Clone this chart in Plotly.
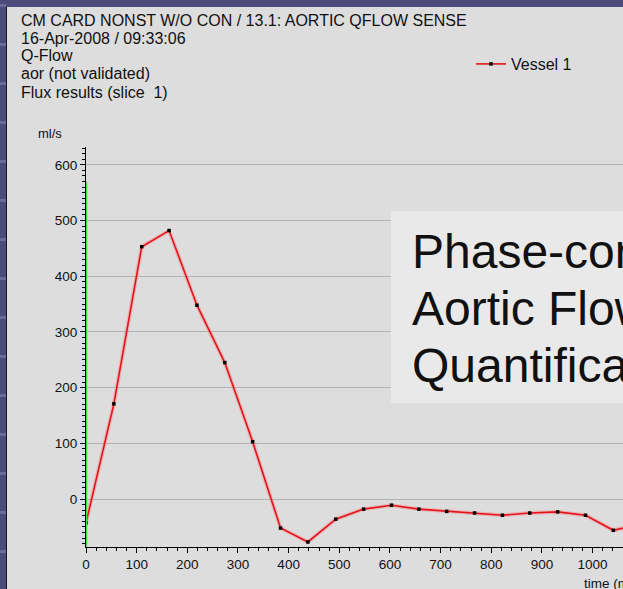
import plotly.graph_objects as go

# ---------------- data ----------------
time_ms = [0, 55, 110, 164, 219, 274, 329, 384, 438, 493, 548, 603, 657, 712,
           767, 822, 876, 931, 986, 1041, 1096]
flow_mls = [-43, 171, 453, 482, 348, 245, 103, -52, -77, -36, -18, -11, -18, -22,
            -25, -29, -25, -23, -29, -56, -45]
series_name = "Vessel 1"
header_lines = [
    "CM CARD NONST W/O CON / 13.1: AORTIC QFLOW SENSE",
    "16-Apr-2008 / 09:33:06",
    "Q-Flow",
    "aor (not validated)",
    "Flux results (slice  1)",
]
overlay_lines = ["Phase-contrast", "Aortic Flow", "Quantification"]
y_unit = "ml/s"
x_title = "time (ms)"
x_ticks = [0, 100, 200, 300, 400, 500, 600, 700, 800, 900, 1000]
y_ticks = [0, 100, 200, 300, 400, 500, 600]
x_range = [0, 1060]
y_range = [-86, 632]
cursor_top = 570

# ---------------- layout geometry ----------------
W, H = 623, 589
L, R, T, B = 86, 0, 147, 42
PW = W - L - R
PH = H - T - B


def px(x):
    return (x - L) / PW


def py(y):
    return (H - B - y) / PH


FONT = "Liberation Sans, Arial, Helvetica, sans-serif"
SLIDE = "#4b4b7b"
PANEL = "#dddddd"

fig = go.Figure()
# soft halo of the curve
fig.add_trace(go.Scatter(x=time_ms, y=flow_mls, mode="lines",
                         line=dict(color="rgba(255,110,110,0.35)", width=4),
                         hoverinfo="skip", showlegend=False))
fig.add_trace(go.Scatter(x=time_ms, y=flow_mls, mode="lines+markers", name=series_name,
                         line=dict(color="#e3141c", width=1.6),
                         marker=dict(symbol="square", size=3.5, color="black")))

shapes = []
# slide border and panel
shapes.append(dict(type="rect", xref="paper", yref="paper", x0=px(7), x1=px(700),
                   y0=py(700), y1=py(7), fillcolor=PANEL, line=dict(width=0), layer="below"))
for yy in range(4, 589, 39):
    shapes.append(dict(type="rect", xref="paper", yref="paper", x0=px(0), x1=px(6),
                       y0=py(yy + 3), y1=py(yy), fillcolor="#6a6a9a",
                       line=dict(width=0), layer="below"))
shapes.append(dict(type="line", xref="paper", yref="paper", x0=px(6.5), x1=px(6.5),
                   y0=py(700), y1=py(7), line=dict(color="#151515", width=1), layer="below"))
# overlay caption box
shapes.append(dict(type="rect", xref="paper", yref="paper", x0=px(391), x1=px(700),
                   y0=py(403), y1=py(211), fillcolor="#e9e9e9", line=dict(width=0),
                   layer="above"))
# green cursor along the y axis
shapes.append(dict(type="line", xref="x", yref="y", x0=0, x1=0, y0=y_range[0], y1=cursor_top,
                   line=dict(color="#46e046", width=2.5), layer="above"))

annotations = []
for i, txt in enumerate(header_lines):
    annotations.append(dict(text=txt, xref="paper", yref="paper", x=px(19), y=py(20 + 18 * i),
                            xanchor="left", yanchor="middle", showarrow=False,
                            font=dict(family=FONT, size=16, color="#111111")))
for i, txt in enumerate(overlay_lines):
    annotations.append(dict(text=txt, xref="paper", yref="paper", x=px(410), y=py(251 + 57 * i),
                            xanchor="left", yanchor="middle", showarrow=False,
                            font=dict(family=FONT, size=48, color="#111111")))
annotations.append(dict(text=y_unit, xref="paper", yref="paper", x=px(50), y=py(133),
                        xanchor="center", yanchor="middle", showarrow=False,
                        font=dict(family=FONT, size=13, color="#111111")))
annotations.append(dict(text=x_title, xref="paper", yref="paper", x=px(582), y=py(583),
                        xanchor="left", yanchor="middle", showarrow=False,
                        font=dict(family=FONT, size=13.5, color="#111111")))

fig.update_layout(
    width=W, height=H, margin=dict(l=L, r=R, t=T, b=B, pad=0),
    paper_bgcolor=SLIDE, plot_bgcolor=PANEL,
    font=dict(family=FONT, size=13.5, color="#111111"),
    showlegend=True,
    legend=dict(x=px(471), y=py(64), xanchor="left", yanchor="middle",
                bgcolor="rgba(0,0,0,0)", borderwidth=0,
                font=dict(family=FONT, size=16, color="#111111"), itemwidth=30),
    shapes=shapes, annotations=annotations,
)
fig.update_xaxes(range=x_range, tickvals=x_ticks, showgrid=False, zeroline=False,
                 showline=True, linecolor="black", linewidth=1,
                 ticks="outside", ticklen=5, tickcolor="black", tickwidth=1,
                 minor=dict(dtick=20, ticks="outside", ticklen=3, tickcolor="black", showgrid=False),
                 tickfont=dict(family=FONT, size=13.5, color="#111111"))
fig.update_yaxes(range=y_range, tickvals=y_ticks, showgrid=True, gridcolor="#b2b2b2", gridwidth=1.3,
                 zeroline=False, showline=True, linecolor="black", linewidth=1,
                 ticks="outside", ticklen=5, tickcolor="black", tickwidth=1,
                 minor=dict(dtick=10, ticks="outside", ticklen=3, tickcolor="black", showgrid=False),
                 tickfont=dict(family=FONT, size=13.5, color="#111111"))

fig.write_html("out.html", config={"displayModeBar": False},
               post_script="document.body.style.margin='0';document.body.style.overflow='hidden';")
